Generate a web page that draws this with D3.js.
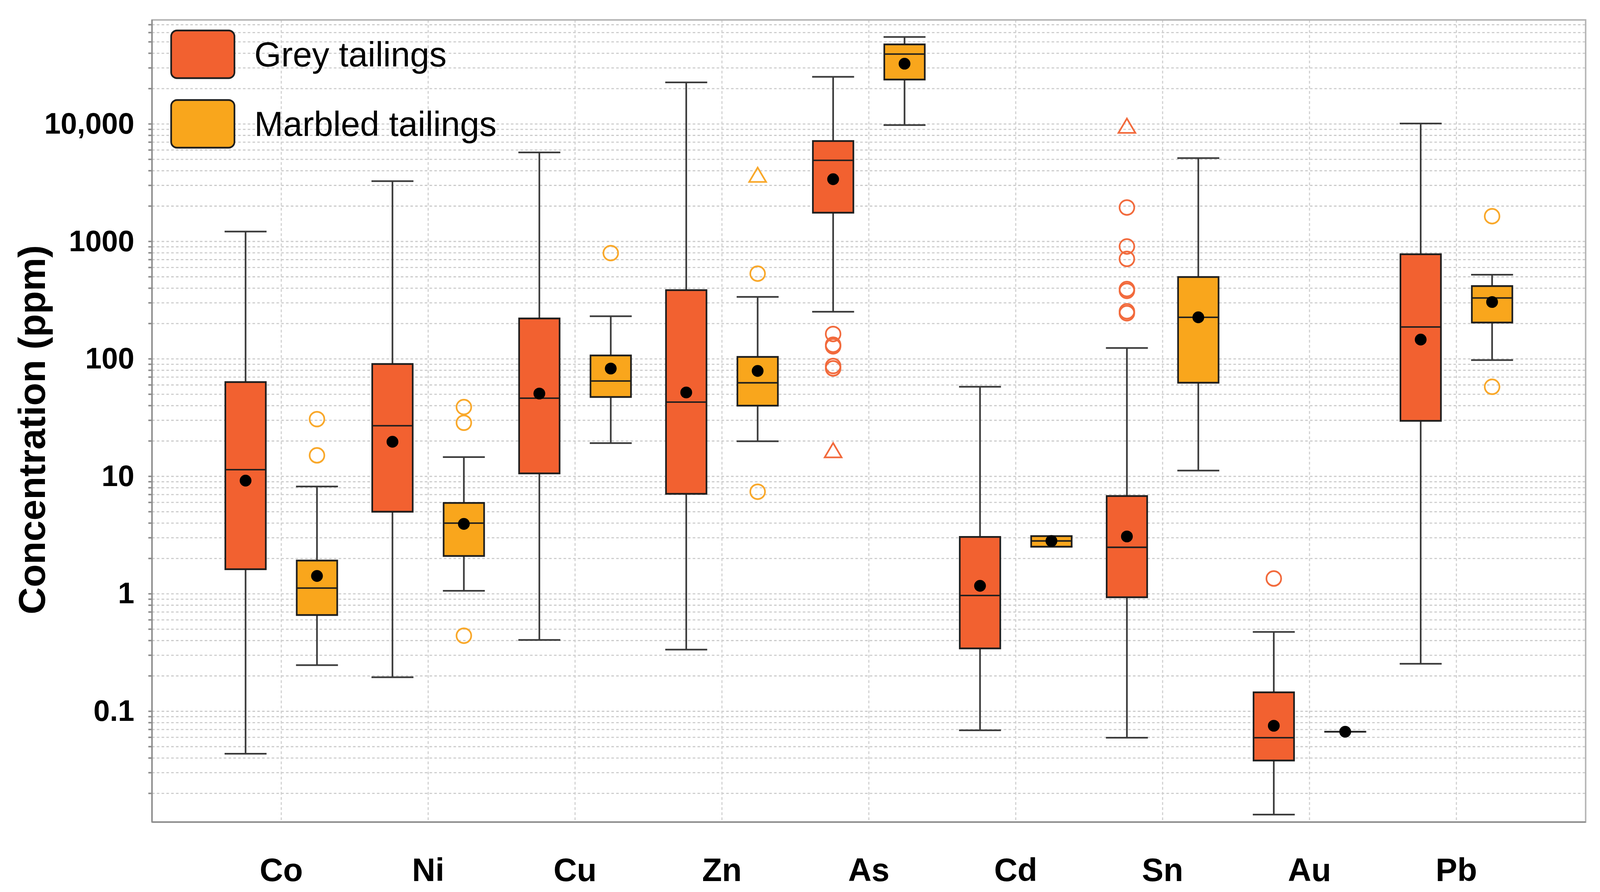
<!DOCTYPE html>
<html>
<head>
<meta charset="utf-8">
<script src="https://cdn.jsdelivr.net/npm/d3@7"></script>
<style>
  html, body { margin: 0; padding: 0; background: #ffffff; overflow: hidden; width: 100%; height: 100%; }
  svg { display: block; width: 100vw; height: 100vh; }
  text { font-family: "Liberation Sans", Arial, Helvetica, sans-serif; }
</style>
</head>
<body>
<svg id="chart" viewBox="0 0 4347 2283" preserveAspectRatio="none"></svg>
<script>
// ---------- DATA ----------
const elements = ["Co", "Ni", "Cu", "Zn", "As", "Cd", "Sn", "Au", "Pb"];
const seriesNames = ["Grey tailings", "Marbled tailings"];
const yTickValues = [0.1, 1, 10, 100, 1000, 10000];
const yTickLabels = ["0.1", "1", "10", "100", "1000", "10,000"];

// Grey tailings
const greyMin    = [0.0435, 0.195, 0.405, 0.335, 252,   0.0689, 0.0596, 0.0132, 0.254];
const greyQ1     = [1.62,   5.0,   10.6,  7.1,   1757,  0.343,  0.935,  0.0381, 29.7];
const greyMedian = [11.4,   27,    46.3,  42.9,  4900,  0.967,  2.49,   0.0596, 187];
const greyQ3     = [63.5,   90.5,  221,   385,   7160,  3.05,   6.8,    0.145,  778];
const greyMax    = [1215,   3260,  5730,  22600, 25200, 57.9,   124,    0.474,  10100];
const greyMean   = [9.2,    19.7,  50.7,  51.8,  3390,  1.17,   3.08,   0.0753, 146];
const greyOutliers = [[], [], [], [], [163, 132, 128, 87, 83], [], [1946, 906, 710, 393, 380, 254, 245], [1.35], []];
const greyExtremes = [[], [], [], [], [16.4], [], [9500], [], []];

// Marbled tailings
const marbledMin    = [0.247, 1.06, 19.2, 19.9, 9780,  2.52, 11.2, 0.067, 97.7];
const marbledQ1     = [0.66,  2.1,  47.4, 40,   23900, 2.52, 62.7, 0.067, 204];
const marbledMedian = [1.12,  4.0,  64.8, 62.6, 39400, 2.82, 226,  0.067, 330];
const marbledQ3     = [1.92,  5.94, 107,  104,  47600, 3.10, 498,  0.067, 417];
const marbledMax    = [8.2,   14.6, 231,  337,  55100, 3.10, 5120, 0.067, 521];
const marbledMean   = [1.42,  3.94, 82.8, 79,   32600, 2.82, 226,  0.067, 305];
const marbledOutliers = [[30.7, 15.1], [38.9, 28.6, 0.44], [796], [532, 7.4], [], [], [], [], [1640, 57.9]];
const marbledExtremes = [[], [], [], [3630], [], [], [], [], []];

// ---------- BUILD ----------
const series = [
  { name: seriesNames[0], fill: "#F26130", outline: "#F26A3C", offset: -1,
    min: greyMin, q1: greyQ1, med: greyMedian, q3: greyQ3, max: greyMax, mean: greyMean,
    out: greyOutliers, ext: greyExtremes },
  { name: seriesNames[1], fill: "#F9A61C", outline: "#F9A82A", offset: 1,
    min: marbledMin, q1: marbledQ1, med: marbledMedian, q3: marbledQ3, max: marbledMax, mean: marbledMean,
    out: marbledOutliers, ext: marbledExtremes }
];

const W = 4347, H = 2283;
// the viewBox is stretched to fill the window; k undoes any vertical stretch on glyphs and symbols
const vw = window.innerWidth || W, vh = window.innerHeight || H;
const stretch = (vh / H) / (vw / W);
const k = 1 / stretch;

const plot = { left: 413, right: 4308, top: 51, bottom: 2104 };
const svg = d3.select("#chart");

const x = d3.scalePoint().domain(elements).range([plot.left, plot.right]).padding(0.88);
const y = d3.scaleLog().domain([0.0114, 76900]).range([plot.bottom, plot.top]);

const boxW = 110, dx = 97;

svg.append("rect").attr("x", 0).attr("y", 0).attr("width", W).attr("height", H).attr("fill", "#fff");

// grid values (log minor)
const gridVals = [];
for (let e = -2; e <= 4; e++) {
  for (let m = 1; m <= 9; m++) {
    const v = m * Math.pow(10, e);
    if (v >= y.domain()[0] && v <= y.domain()[1]) gridVals.push(v);
  }
}

const grid = svg.append("g");
grid.selectAll("line.h").data(gridVals).join("line")
  .attr("x1", plot.left).attr("x2", plot.right)
  .attr("y1", d => y(d)).attr("y2", d => y(d))
  .attr("stroke", "#cbcbcb").attr("stroke-width", 3 * k).attr("stroke-dasharray", "7,6");
grid.selectAll("line.v").data(elements).join("line")
  .attr("x1", d => x(d)).attr("x2", d => x(d))
  .attr("y1", plot.top).attr("y2", plot.bottom)
  .attr("stroke", "#d0d0d0").attr("stroke-width", 3).attr("stroke-dasharray", "7,6");

// minor ticks on y axis
svg.append("g").selectAll("line").data(gridVals).join("line")
  .attr("x1", plot.left - 10).attr("x2", plot.left)
  .attr("y1", d => y(d)).attr("y2", d => y(d))
  .attr("stroke", "#8a8a8a").attr("stroke-width", 4 * k);

// frame
svg.append("rect")
  .attr("x", plot.left).attr("y", plot.top)
  .attr("width", plot.right - plot.left).attr("height", plot.bottom - plot.top)
  .attr("fill", "none").attr("stroke", "#b5b5b5").attr("stroke-width", 4);
svg.append("line").attr("x1", plot.left).attr("x2", plot.left).attr("y1", plot.top).attr("y2", plot.bottom)
  .attr("stroke", "#8c8c8c").attr("stroke-width", 4);
svg.append("line").attr("x1", plot.left).attr("x2", plot.right).attr("y1", plot.bottom).attr("y2", plot.bottom)
  .attr("stroke", "#8c8c8c").attr("stroke-width", 4 * k);

// y tick labels via axis
const yAxis = d3.axisLeft(y).tickValues(yTickValues).tickFormat((d, i) => yTickLabels[i]).tickSize(0).tickPadding(48);
const ya = svg.append("g").attr("transform", `translate(${plot.left},0)`).call(yAxis);
ya.select(".domain").remove();
ya.selectAll("text").attr("font-size", 80).attr("font-weight", "bold").attr("fill", "#000")
  .attr("font-family", "Liberation Sans, Arial, sans-serif")
  .attr("transform", `scale(1,${k})`);

// x labels
svg.append("g").selectAll("text").data(elements).join("text")
  .attr("transform", d => `translate(${x(d)},2226) scale(1,${k})`)
  .attr("text-anchor", "middle").attr("dominant-baseline", "central")
  .attr("font-size", 88).attr("font-weight", "bold").attr("fill", "#000")
  .text(d => d);

// y title
svg.append("text")
  .attr("transform", `translate(86,1100) scale(1,${k}) rotate(-90)`)
  .attr("text-anchor", "middle").attr("dominant-baseline", "central")
  .attr("font-size", 102).attr("font-weight", "bold").attr("fill", "#000")
  .text("Concentration (ppm)");

// boxes
series.forEach(s => {
  const g = svg.append("g");
  elements.forEach((el, i) => {
    const cx = x(el) + s.offset * dx;
    const wstroke = "#3a3a3a";
    // whiskers
    g.append("line").attr("x1", cx).attr("x2", cx).attr("y1", y(s.max[i])).attr("y2", y(s.q3[i]))
      .attr("stroke", wstroke).attr("stroke-width", 4.5);
    g.append("line").attr("x1", cx).attr("x2", cx).attr("y1", y(s.q1[i])).attr("y2", y(s.min[i]))
      .attr("stroke", wstroke).attr("stroke-width", 4.5);
    [s.max[i], s.min[i]].forEach(v => {
      g.append("line").attr("x1", cx - boxW / 2 - 2).attr("x2", cx + boxW / 2 + 2)
        .attr("y1", y(v)).attr("y2", y(v)).attr("stroke", wstroke).attr("stroke-width", 4.5 * k);
    });
    // box
    const top = y(s.q3[i]), bot = y(s.q1[i]);
    g.append("rect").attr("x", cx - boxW / 2).attr("y", top)
      .attr("width", boxW).attr("height", Math.max(bot - top, 0))
      .attr("fill", s.fill).attr("stroke", "#1e1e1e").attr("stroke-width", 4.5);
    // median
    g.append("line").attr("x1", cx - boxW / 2).attr("x2", cx + boxW / 2)
      .attr("y1", y(s.med[i])).attr("y2", y(s.med[i]))
      .attr("stroke", "#1e1e1e").attr("stroke-width", 4 * k);
    // outliers (circles)
    g.selectAll(null).data(s.out[i]).join("ellipse")
      .attr("cx", cx).attr("cy", d => y(d)).attr("rx", 20).attr("ry", 20 * k)
      .attr("fill", "none").attr("stroke", s.outline).attr("stroke-width", 4.5);
    // extremes (triangles)
    g.selectAll(null).data(s.ext[i]).join("path")
      .attr("transform", d => `translate(${cx},${y(d)}) scale(1,${k})`)
      .attr("d", "M0,-22 L23,17 L-23,17 Z")
      .attr("fill", "none").attr("stroke", s.outline).attr("stroke-width", 4.5).attr("stroke-linejoin", "miter");
    // mean
    g.append("ellipse").attr("cx", cx).attr("cy", y(s.mean[i])).attr("rx", 16).attr("ry", 16 * k).attr("fill", "#000");
  });
});

// legend
const legend = svg.append("g");
series.forEach((s, i) => {
  const ly = 78 + i * 178;
  legend.append("rect").attr("x", 465).attr("y", ly).attr("width", 172).attr("height", 122)
    .attr("rx", 16).attr("ry", 16 * k)
    .attr("fill", s.fill).attr("stroke", "#1e1e1e").attr("stroke-width", 4.5);
  legend.append("text").attr("transform", `translate(691,${ly + 61}) scale(1,${k})`)
    .attr("dominant-baseline", "central").attr("font-size", 94).attr("fill", "#000")
    .text(s.name);
});
</script>
</body>
</html>
